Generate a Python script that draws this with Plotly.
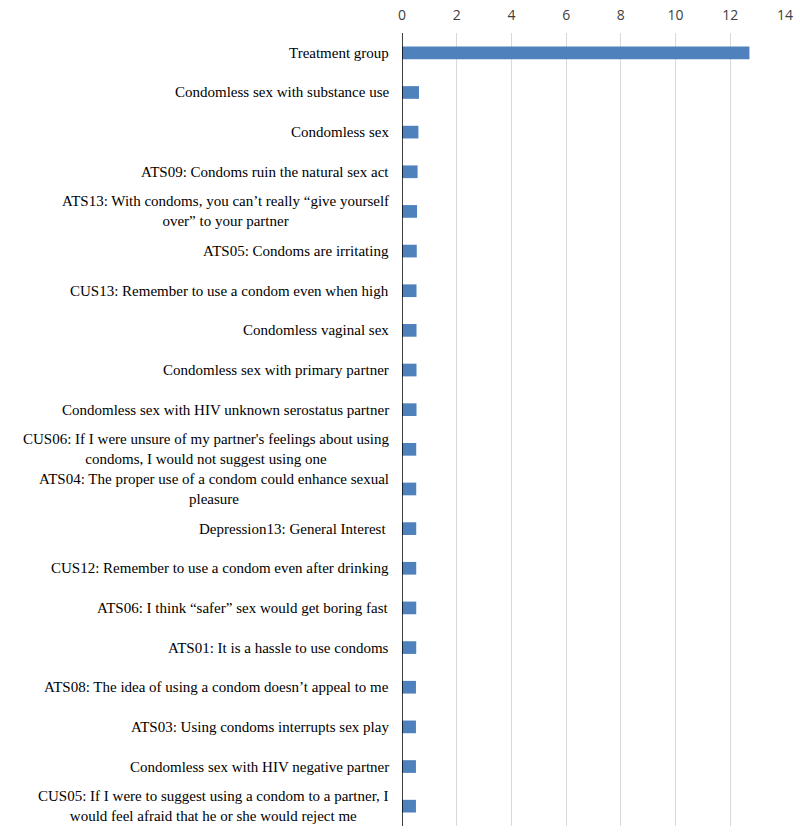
import plotly.graph_objects as go

categories = [
    "Treatment group",
    "Condomless sex with substance use",
    "Condomless sex",
    "ATS09: Condoms ruin the natural sex act",
    "ATS13: With condoms, you can’t really “give yourself<br>over” to your partner",
    "ATS05: Condoms are irritating",
    "CUS13: Remember to use a condom even when high",
    "Condomless vaginal sex",
    "Condomless sex with primary partner",
    "Condomless sex with HIV unknown serostatus partner",
    "CUS06: If I were unsure of my partner's feelings about using<br>condoms, I would not suggest using one",
    "ATS04: The proper use of a condom could enhance sexual<br>pleasure",
    "Depression13: General Interest ",
    "CUS12: Remember to use a condom even after drinking",
    "ATS06: I think “safer” sex would get boring fast",
    "ATS01: It is a hassle to use condoms",
    "ATS08: The idea of using a condom doesn’t appeal to me",
    "ATS03: Using condoms interrupts sex play",
    "Condomless sex with HIV negative partner",
    "CUS05: If I were to suggest using a condom to a partner, I<br>would feel afraid that he or she would reject me",
]
values = [12.7, 0.62, 0.60, 0.57, 0.55, 0.54, 0.53, 0.53, 0.53, 0.53,
          0.52, 0.52, 0.52, 0.52, 0.52, 0.52, 0.51, 0.51, 0.51, 0.51]
x_ticks = [0, 2, 4, 6, 8, 10, 12, 14]

SERIF = "Liberation Serif, Times New Roman, serif"

fig = go.Figure(go.Bar(
    x=values, y=list(range(len(categories))), orientation="h",
    marker=dict(color="#4f81bd", line=dict(width=0)),
    hoverinfo="skip",
))

annotations = []
for i, c in enumerate(categories):
    annotations.append(dict(
        x=0, xref="paper", y=i, yref="y", text=c, showarrow=False,
        xanchor="right", yanchor="middle", align="center", xshift=-11,
        font=dict(family=SERIF, size=15, color="#000000"),
    ))

fig.update_layout(
    width=800, height=834,
    margin=dict(l=402, r=15, t=33, b=8, autoexpand=False),
    plot_bgcolor="white", paper_bgcolor="white",
    bargap=0.68,
    showlegend=False,
    annotations=annotations,
    xaxis=dict(
        range=[0, 14], tickvals=x_ticks, side="top",
        showgrid=True, gridcolor="#d9d9d9", gridwidth=1,
        zeroline=False, showline=False, ticks="",
        tickfont=dict(family="Open Sans", size=14, color="#404040"),
        ticklabelstandoff=9,
        automargin=False,
    ),
    yaxis=dict(
        range=[len(categories) - 0.5, -0.5],
        showticklabels=False, showgrid=False, zeroline=False,
        showline=False, ticks="", automargin=False,
    ),
    shapes=[dict(type="line", xref="x", yref="paper", x0=0, x1=0,
                 y0=0, y1=1, line=dict(color="black", width=1.5))],
)

fig.write_html("out.html",
               config={"displayModeBar": False},
               post_script="document.body.style.margin='0';document.body.style.overflow='hidden';")
